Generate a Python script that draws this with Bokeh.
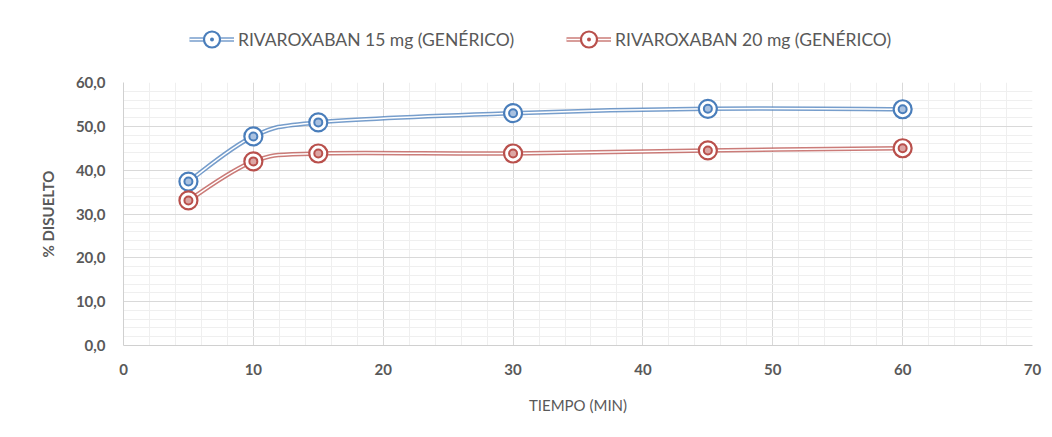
from bokeh.plotting import figure
from bokeh.layouts import column
from bokeh.models import Legend, LegendItem, CustomJSTickFormatter, FixedTicker, Range1d, ColumnDataSource
from bokeh.embed import file_html
from bokeh.resources import INLINE

tiempo = [5, 10, 15, 30, 45, 60]
rivaroxaban_15 = [37.4, 47.7, 50.9, 53.0, 54.0, 53.9]
rivaroxaban_20 = [33.1, 42.0, 43.8, 43.8, 44.5, 45.0]
series_names = ["RIVAROXABAN 15 mg (GENÉRICO)", "RIVAROXABAN 20 mg (GENÉRICO)"]
x_ticks = [0, 10, 20, 30, 40, 50, 60, 70]
y_ticks = [0, 10, 20, 30, 40, 50, 60]
x_label = "TIEMPO (MIN)"
y_label = "% DISUELTO"

FONT = "Lato"
TXT = "#595959"


def bezier_source(xs, ys):
    n = len(xs)
    d = dict(x0=[], y0=[], x1=[], y1=[], cx0=[], cy0=[], cx1=[], cy1=[])
    for i in range(n - 1):
        a = max(i - 1, 0)
        b = min(i + 2, n - 1)
        d["x0"].append(xs[i]); d["y0"].append(ys[i])
        d["x1"].append(xs[i + 1]); d["y1"].append(ys[i + 1])
        d["cx0"].append(xs[i] + (xs[i + 1] - xs[a]) / 6)
        d["cy0"].append(ys[i] + (ys[i + 1] - ys[a]) / 6)
        d["cx1"].append(xs[i + 1] - (xs[b] - xs[i]) / 6)
        d["cy1"].append(ys[i + 1] - (ys[b] - ys[i]) / 6)
    return ColumnDataSource(d)


p = figure(frame_width=909, frame_height=263, output_backend="svg", toolbar_location=None,
           x_range=Range1d(0, 70), y_range=Range1d(0, 60),
           min_border_left=123, min_border_right=11, min_border_top=13, min_border_bottom=78)
p.outline_line_color = None
p.background_fill_color = "white"
p.border_fill_color = "white"

p.xaxis.ticker = FixedTicker(ticks=x_ticks, minor_ticks=list(range(0, 71, 2)))
p.yaxis.ticker = FixedTicker(ticks=y_ticks, minor_ticks=list(range(0, 61, 2)))
p.yaxis.formatter = CustomJSTickFormatter(code="return tick.toFixed(1).replace('.', ',');")

for ax in (p.xaxis, p.yaxis):
    ax.axis_line_color = "#d0d0d0"
    ax.major_tick_line_color = None
    ax.minor_tick_line_color = None
    ax.major_label_text_font = FONT
    ax.major_label_text_font_size = "15px"
    ax.major_label_text_font_style = "bold"
    ax.major_label_text_color = TXT
    ax.axis_label_text_font = FONT
    ax.axis_label_text_font_size = "15px"
    ax.axis_label_text_color = TXT
p.xaxis.major_label_standoff = 12
p.yaxis.major_label_standoff = 12
p.xaxis.axis_label = x_label
p.yaxis.axis_label = y_label
p.xaxis.axis_label_text_font_style = "normal"
p.yaxis.axis_label_text_font_style = "bold"
p.xaxis.axis_label_standoff = 18
p.yaxis.axis_label_standoff = 16

p.xgrid.grid_line_color = "#d9d9d9"
p.ygrid.grid_line_color = "#d9d9d9"
p.xgrid.minor_grid_line_color = "#efefef"
p.ygrid.minor_grid_line_color = "#efefef"

# legend strip above the chart (its ranges exclude the data, so only the legend shows)
lg = figure(width=1043, height=69, output_backend="svg", toolbar_location=None,
            x_range=Range1d(-2, -1), y_range=Range1d(-2, -1),
            x_axis_location=None, y_axis_location=None,
            min_border_left=0, min_border_right=0, min_border_top=0, min_border_bottom=0)
lg.outline_line_color = None
lg.xgrid.visible = False
lg.ygrid.visible = False

colors = ["#4a7ebb", "#b9504c"]
light = ["#a9c1e0", "#dca6a4"]
items = []
for ys, name, c, lc in zip([rivaroxaban_15, rivaroxaban_20], series_names, colors, light):
    src = bezier_source(tiempo, ys)
    bz = dict(x0="x0", y0="y0", x1="x1", y1="y1", cx0="cx0", cy0="cy0", cx1="cx1", cy1="cy1")
    p.bezier(**bz, source=src, line_color=c, line_width=4.5, line_alpha=0.75)
    p.bezier(**bz, source=src, line_color="white", line_width=1.5)
    p.scatter(tiempo, ys, size=18, marker="circle", fill_color="white", line_color=c, line_width=2.2)
    p.scatter(tiempo, ys, size=8, marker="circle", fill_color=lc, line_color=c, line_width=2)

    l1 = lg.bezier(**bz, source=src, line_color=c, line_width=4.5, line_alpha=0.75)
    l2 = lg.bezier(**bz, source=src, line_color="white", line_width=1.5)
    l3 = lg.scatter(tiempo, ys, size=18, marker="circle_dot", fill_color="white", line_color=c, line_width=2.2)
    items.append(LegendItem(label=name, renderers=[l1, l2, l3]))

legend = Legend(items=items, orientation="horizontal", location=(66, 10),
                label_text_font=FONT, label_text_font_size="17.5px", label_text_color=TXT,
                glyph_width=45, glyph_height=40, spacing=52, border_line_color=None,
                background_fill_alpha=0, label_standoff=4, margin=0, padding=0)
lg.add_layout(legend)

layout = column(lg, p, spacing=0)
open("out.html", "w").write(file_html(layout, INLINE))
